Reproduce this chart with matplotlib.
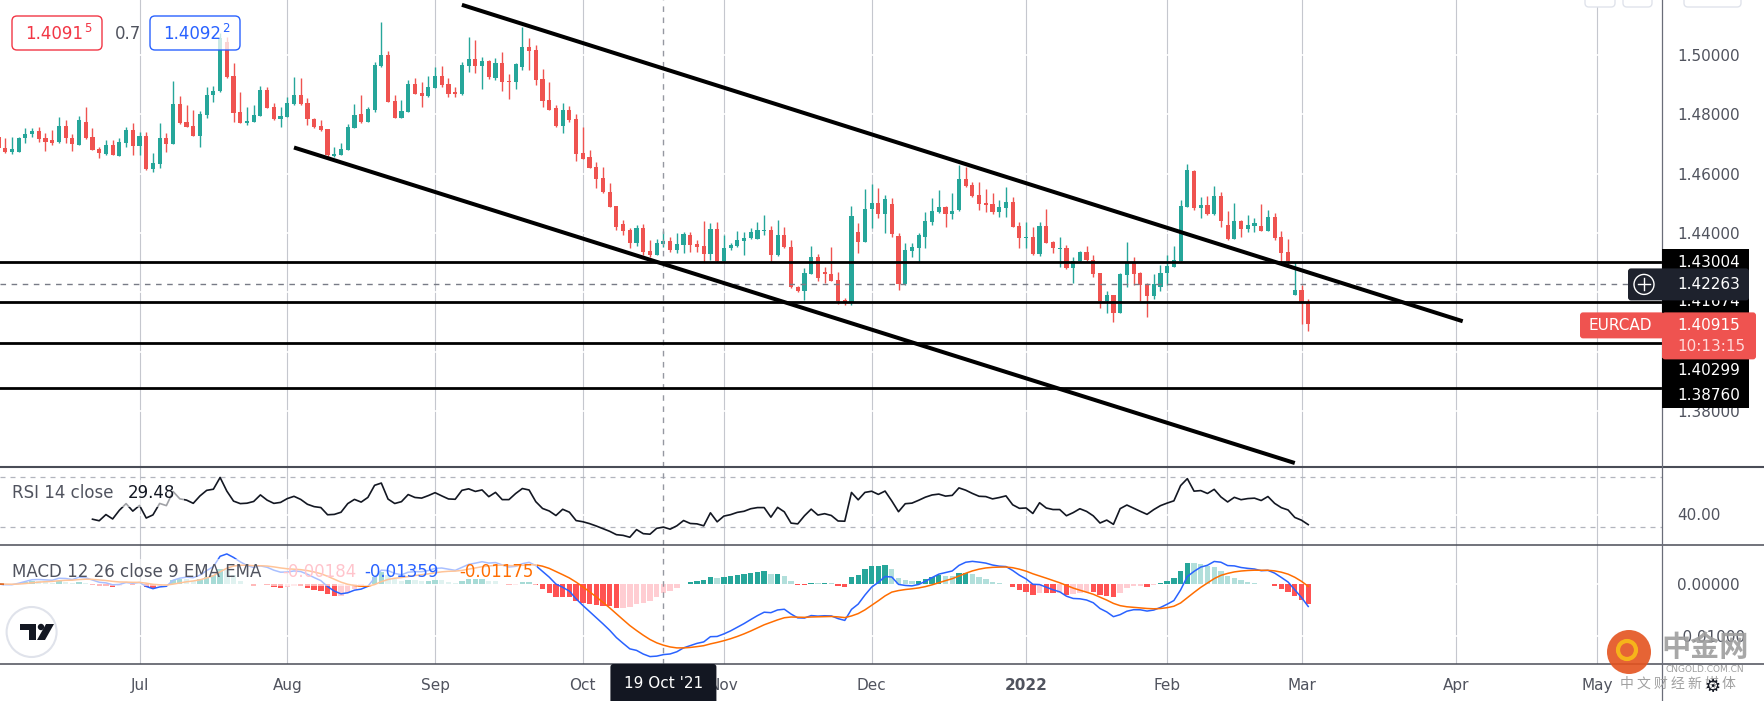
import matplotlib
matplotlib.use("Agg")
import matplotlib.pyplot as plt
from matplotlib.patches import Rectangle, FancyBboxPatch, Circle, Polygon
from matplotlib.lines import Line2D
from matplotlib.transforms import Affine2D
import numpy as np
import pandas as pd

plt.rcParams["axes.unicode_minus"] = False
plt.rcParams["font.family"] = ["DejaVu Sans"]

W, H = 1765, 701
UP, DOWN = "#26a69a", "#ef5350"
TXT = "#50535e"

# EURCAD daily candles (2 Jun 2021 - 2 Mar 2022)
dates = pd.bdate_range("2021-06-02", "2022-03-02")
opens = [
    1.4725, 1.4688, 1.4672, 1.4674, 1.4719, 1.4732, 1.4744, 1.4719, 1.4712, 1.4706,
    1.4761, 1.4719, 1.4697, 1.4773, 1.4723, 1.4682, 1.4666, 1.4697, 1.4660, 1.4704,
    1.4746, 1.4692, 1.4726, 1.4616, 1.4634, 1.4720, 1.4701, 1.4835, 1.4773, 1.4760,
    1.4728, 1.4798, 1.4864, 1.4879, 1.5045, 1.4929, 1.4808, 1.4772, 1.4775, 1.4795,
    1.4882, 1.4825, 1.4783, 1.4792, 1.4836, 1.4865, 1.4838, 1.4784, 1.4761, 1.4750,
    1.4660, 1.4663, 1.4680, 1.4755, 1.4800, 1.4775, 1.4813, 1.4964, 1.5000, 1.4845,
    1.4789, 1.4809, 1.4902, 1.4872, 1.4863, 1.4890, 1.4929, 1.4901, 1.4875, 1.4867,
    1.4964, 1.4985, 1.4964, 1.4980, 1.4924, 1.4972, 1.4913, 1.4910, 1.4961, 1.5026,
    1.5017, 1.4919, 1.4848, 1.4820, 1.4761, 1.4815, 1.4784, 1.4671, 1.4657, 1.4622,
    1.4586, 1.4539, 1.4491, 1.4430, 1.4410, 1.4367, 1.4415, 1.4339, 1.4326, 1.4364,
    1.4372, 1.4341, 1.4359, 1.4393, 1.4361, 1.4356, 1.4329, 1.4413, 1.4305, 1.4348,
    1.4357, 1.4374, 1.4382, 1.4380, 1.4406, 1.4410, 1.4326, 1.4393, 1.4354, 1.4219,
    1.4205, 1.4261, 1.4318, 1.4269, 1.4261, 1.4241, 1.4173, 1.4168, 1.4402, 1.4370,
    1.4480, 1.4500, 1.4464, 1.4497, 1.4390, 1.4228, 1.4340, 1.4350, 1.4387, 1.4438,
    1.4472, 1.4487, 1.4464, 1.4477, 1.4582, 1.4562, 1.4528, 1.4500, 1.4497, 1.4472,
    1.4485, 1.4503, 1.4423, 1.4383, 1.4386, 1.4329, 1.4423, 1.4369, 1.4346, 1.4348,
    1.4281, 1.4305, 1.4336, 1.4309, 1.4264, 1.4169, 1.4190, 1.4131, 1.4258, 1.4297,
    1.4264, 1.4228, 1.4187, 1.4219, 1.4264, 1.4286, 1.4306, 1.4489, 1.4610, 1.4485,
    1.4494, 1.4463, 1.4524, 1.4427, 1.4380, 1.4441, 1.4413, 1.4424, 1.4424, 1.4408,
    1.4452, 1.4385, 1.4336, 1.4191, 1.4207, 1.4165,
]
highs = [
    1.4736, 1.4719, 1.4722, 1.4725, 1.4753, 1.4753, 1.4756, 1.4736, 1.4747, 1.4792,
    1.4780, 1.4732, 1.4795, 1.4825, 1.4753, 1.4691, 1.4713, 1.4713, 1.4719, 1.4758,
    1.4770, 1.4741, 1.4741, 1.4668, 1.4770, 1.4736, 1.4912, 1.4862, 1.4831, 1.4815,
    1.4812, 1.4893, 1.4897, 1.5073, 1.5062, 1.4972, 1.4876, 1.4826, 1.4831, 1.4897,
    1.4893, 1.4837, 1.4826, 1.4860, 1.4925, 1.4921, 1.4854, 1.4786, 1.4781, 1.4752,
    1.4691, 1.4702, 1.4767, 1.4834, 1.4865, 1.4826, 1.4978, 1.5112, 1.5014, 1.4865,
    1.4847, 1.4916, 1.4924, 1.4910, 1.4930, 1.4961, 1.4963, 1.4921, 1.4893, 1.4978,
    1.5062, 1.5051, 1.4992, 1.4982, 1.4989, 1.5011, 1.4936, 1.4972, 1.5096, 1.5056,
    1.5034, 1.4953, 1.4910, 1.4831, 1.4837, 1.4828, 1.4800, 1.4756, 1.4680, 1.4640,
    1.4623, 1.4567, 1.4492, 1.4444, 1.4415, 1.4427, 1.4429, 1.4376, 1.4378, 1.4406,
    1.4387, 1.4399, 1.4404, 1.4402, 1.4376, 1.4440, 1.4432, 1.4438, 1.4393, 1.4367,
    1.4406, 1.4404, 1.4418, 1.4436, 1.4460, 1.4424, 1.4444, 1.4421, 1.4376, 1.4222,
    1.4281, 1.4357, 1.4328, 1.4286, 1.4354, 1.4267, 1.4179, 1.4491, 1.4432, 1.4548,
    1.4564, 1.4550, 1.4528, 1.4517, 1.4399, 1.4365, 1.4365, 1.4399, 1.4472, 1.4519,
    1.4545, 1.4492, 1.4534, 1.4629, 1.4623, 1.4573, 1.4573, 1.4548, 1.4534, 1.4511,
    1.4554, 1.4522, 1.4438, 1.4438, 1.4421, 1.4438, 1.4481, 1.4374, 1.4387, 1.4359,
    1.4320, 1.4339, 1.4357, 1.4326, 1.4265, 1.4204, 1.4191, 1.4264, 1.4370, 1.4320,
    1.4269, 1.4230, 1.4261, 1.4292, 1.4326, 1.4356, 1.4511, 1.4632, 1.4612, 1.4522,
    1.4524, 1.4558, 1.4537, 1.4474, 1.4502, 1.4442, 1.4460, 1.4449, 1.4497, 1.4477,
    1.4468, 1.4406, 1.4378, 1.4303, 1.4224, 1.4176,
]
lows = [
    1.4680, 1.4670, 1.4665, 1.4673, 1.4702, 1.4725, 1.4708, 1.4676, 1.4697, 1.4702,
    1.4702, 1.4676, 1.4695, 1.4717, 1.4680, 1.4654, 1.4663, 1.4662, 1.4659, 1.4691,
    1.4663, 1.4663, 1.4612, 1.4607, 1.4618, 1.4674, 1.4700, 1.4766, 1.4757, 1.4727,
    1.4691, 1.4786, 1.4840, 1.4874, 1.4924, 1.4775, 1.4771, 1.4764, 1.4774, 1.4794,
    1.4821, 1.4780, 1.4758, 1.4791, 1.4831, 1.4831, 1.4764, 1.4753, 1.4744, 1.4657,
    1.4657, 1.4662, 1.4679, 1.4754, 1.4770, 1.4773, 1.4809, 1.4961, 1.4842, 1.4786,
    1.4788, 1.4808, 1.4869, 1.4826, 1.4858, 1.4889, 1.4893, 1.4857, 1.4858, 1.4866,
    1.4944, 1.4938, 1.4885, 1.4919, 1.4916, 1.4880, 1.4852, 1.4885, 1.4950, 1.4950,
    1.4899, 1.4826, 1.4815, 1.4758, 1.4736, 1.4775, 1.4643, 1.4648, 1.4618, 1.4550,
    1.4536, 1.4487, 1.4410, 1.4393, 1.4348, 1.4357, 1.4326, 1.4320, 1.4324, 1.4351,
    1.4337, 1.4333, 1.4331, 1.4337, 1.4337, 1.4303, 1.4309, 1.4303, 1.4303, 1.4342,
    1.4354, 1.4326, 1.4379, 1.4378, 1.4393, 1.4303, 1.4323, 1.4348, 1.4213, 1.4202,
    1.4174, 1.4260, 1.4239, 1.4230, 1.4238, 1.4161, 1.4157, 1.4157, 1.4333, 1.4369,
    1.4415, 1.4451, 1.4399, 1.4387, 1.4207, 1.4224, 1.4320, 1.4303, 1.4348, 1.4427,
    1.4466, 1.4419, 1.4447, 1.4474, 1.4556, 1.4522, 1.4477, 1.4472, 1.4463, 1.4455,
    1.4455, 1.4419, 1.4348, 1.4348, 1.4326, 1.4322, 1.4365, 1.4333, 1.4284, 1.4279,
    1.4232, 1.4303, 1.4305, 1.4252, 1.4146, 1.4129, 1.4101, 1.4130, 1.4219, 1.4224,
    1.4171, 1.4118, 1.4176, 1.4205, 1.4224, 1.4285, 1.4305, 1.4487, 1.4477, 1.4451,
    1.4462, 1.4462, 1.4419, 1.4376, 1.4379, 1.4387, 1.4404, 1.4404, 1.4406, 1.4406,
    1.4376, 1.4303, 1.4286, 1.4189, 1.4093, 1.4069,
]
closes = [
    1.4688, 1.4672, 1.4683, 1.4719, 1.4734, 1.4745, 1.4717, 1.4706, 1.4704, 1.4761,
    1.4719, 1.4699, 1.4780, 1.4719, 1.4681, 1.4668, 1.4697, 1.4663, 1.4707, 1.4746,
    1.4692, 1.4727, 1.4616, 1.4636, 1.4720, 1.4701, 1.4835, 1.4770, 1.4758, 1.4728,
    1.4801, 1.4865, 1.4879, 1.5056, 1.4927, 1.4806, 1.4772, 1.4777, 1.4798, 1.4882,
    1.4822, 1.4783, 1.4794, 1.4838, 1.4865, 1.4834, 1.4783, 1.4757, 1.4747, 1.4663,
    1.4666, 1.4683, 1.4757, 1.4798, 1.4773, 1.4818, 1.4966, 1.5000, 1.4843, 1.4789,
    1.4811, 1.4902, 1.4870, 1.4863, 1.4893, 1.4929, 1.4899, 1.4870, 1.4867, 1.4966,
    1.4985, 1.4964, 1.4981, 1.4927, 1.4972, 1.4910, 1.4910, 1.4970, 1.5026, 1.5015,
    1.4916, 1.4845, 1.4816, 1.4761, 1.4815, 1.4781, 1.4667, 1.4649, 1.4620, 1.4582,
    1.4537, 1.4489, 1.4421, 1.4406, 1.4365, 1.4415, 1.4337, 1.4326, 1.4365, 1.4373,
    1.4341, 1.4362, 1.4396, 1.4359, 1.4354, 1.4330, 1.4413, 1.4305, 1.4348, 1.4359,
    1.4376, 1.4384, 1.4402, 1.4410, 1.4410, 1.4326, 1.4393, 1.4351, 1.4216, 1.4205,
    1.4264, 1.4318, 1.4249, 1.4260, 1.4239, 1.4170, 1.4167, 1.4457, 1.4370, 1.4481,
    1.4500, 1.4464, 1.4514, 1.4395, 1.4228, 1.4342, 1.4351, 1.4393, 1.4440, 1.4474,
    1.4487, 1.4464, 1.4474, 1.4582, 1.4559, 1.4526, 1.4497, 1.4494, 1.4472, 1.4486,
    1.4503, 1.4421, 1.4384, 1.4387, 1.4329, 1.4423, 1.4367, 1.4350, 1.4350, 1.4281,
    1.4305, 1.4336, 1.4309, 1.4261, 1.4169, 1.4190, 1.4131, 1.4261, 1.4297, 1.4261,
    1.4224, 1.4187, 1.4228, 1.4264, 1.4288, 1.4309, 1.4491, 1.4612, 1.4485, 1.4494,
    1.4463, 1.4524, 1.4441, 1.4380, 1.4441, 1.4413, 1.4427, 1.4432, 1.4408, 1.4452,
    1.4382, 1.4333, 1.4306, 1.4207, 1.4165, 1.40915,
]

# drawn levels and trend lines
levels = [1.43004, 1.41674, 1.40299, 1.38760]
level_label_shift = [0, 0, 28, 7]  # label pushed down in px
cross_date, cross_price = "2021-10-19", 1.42263
upper_dates, upper_prices = ["2021-09-07", "2022-04-04"], [1.51692, 1.41021]
lower_dates, lower_prices = ["2021-08-03", "2022-02-28"], [1.46880, 1.36239]

# bar positions on a weekday calendar (extends into the empty future area)
cal = pd.bdate_range("2021-06-02", "2022-05-31")
def pos(d):
    return cal.get_loc(pd.Timestamp(d))

months = pd.period_range("2021-07", "2022-05", freq="M")
month_pos = [pos(cal[cal.to_period("M") == m][0]) for m in months]
month_lbl = ["2022" if m.month == 1 else m.strftime("%b") for m in months]

o, h, l, c = (np.array(v) for v in (opens, highs, lows, closes))
x = np.array([pos(d) for d in dates])

# indicators from the closes
cs = pd.Series(c)
delta = cs.diff()
gain = delta.clip(lower=0).ewm(alpha=1 / 14, adjust=False, min_periods=14).mean()
loss = (-delta.clip(upper=0)).ewm(alpha=1 / 14, adjust=False, min_periods=14).mean()
rsi = 100 - 100 / (1 + gain / loss)
macd = cs.ewm(span=12, adjust=False).mean() - cs.ewm(span=26, adjust=False).mean()
signal = macd.ewm(span=9, adjust=False).mean()
hist = (macd - signal).values
prev = np.r_[hist[0], hist[:-1]]
hist_col = np.where(hist >= 0,
                    np.where(hist > prev, "#26a69a", "#b2dfdb"),
                    np.where(hist > prev, "#ffcdd2", "#ff5252"))

fig = plt.figure(figsize=(W / 100, H / 100), dpi=100)
T = Affine2D().scale(1, -1).translate(0, H)  # pixel coords, origin top-left

ax = fig.add_axes([0, 1 - 467 / H, 1662 / W, 467 / H])
ax_rsi = fig.add_axes([0, 1 - 545 / H, 1662 / W, 78 / H], sharex=ax)
ax_macd = fig.add_axes([0, 1 - 664 / H, 1662 / W, 119 / H], sharex=ax)

ax.set_xlim(0.23, 247.67)
ax.set_ylim(1.36105, 1.51855)
ax_rsi.set_ylim(15.6, 78)
ax_macd.set_ylim(-0.01538, 0.0075)

main_ticks = np.round(np.arange(1.38, 1.5001, 0.02), 2)
for a, ticks, fmt in ((ax, main_ticks, "{:.5f}"), (ax_rsi, [40], "{:.2f}"),
                      (ax_macd, [0.0, -0.01], "{:.5f}")):
    for s in a.spines.values():
        s.set_visible(False)
    for mp in month_pos:
        a.axvline(mp, color="#c5c7ce", lw=0.8, zorder=0.4)
    for t in ticks:
        a.axhline(t, color="white", lw=1.2, zorder=0.5)
    a.axvline(pos(cross_date), color="#9598a1", lw=1.0, ls=(0, (4, 4)), zorder=6)
    a.yaxis.tick_right()
    a.set_yticks(ticks)
    a.set_yticklabels([fmt.format(t) for t in ticks])
    a.tick_params(axis="y", length=0, pad=10.8, labelsize=11, labelcolor=TXT)
    a.tick_params(axis="x", length=0, labelbottom=False)

# candles
col = np.where(c >= o, UP, DOWN)
ax.vlines(x, l, h, colors=col, lw=1.0, zorder=2)
ax.bar(x, np.maximum(np.abs(c - o), 0.00008), bottom=np.minimum(o, c),
       width=0.62, color=col, linewidth=0, zorder=3)

ax.axhline(cross_price, color="#787b86", lw=1.0, ls=(0, (4, 4)), zorder=6)
for p in levels:
    ax.axhline(p, color="black", lw=2.0, zorder=7)
for ds, ps in ((upper_dates, upper_prices), (lower_dates, lower_prices)):
    ax.plot([pos(d) for d in ds], ps, color="black", lw=2.9,
            solid_capstyle="butt", zorder=7)

# RSI
ax_rsi.plot(x, rsi, color="#131722", lw=1.2, zorder=3)
for lvl in (70, 30):
    ax_rsi.axhline(lvl, color="#b2b5be", lw=0.9, ls=(0, (4, 4)), zorder=1)

# MACD
ax_macd.bar(x, hist, width=0.8, color=hist_col, linewidth=0, zorder=2)
ax_macd.plot(x, macd, color="#2962ff", lw=1.1, zorder=3)
ax_macd.plot(x, signal, color="#ff6d00", lw=1.1, zorder=3)
ax_macd.set_xticks(month_pos)
ax_macd.set_xticklabels(month_lbl)
ax_macd.tick_params(axis="x", length=0, pad=10, labelsize=11, labelcolor=TXT,
                    labelbottom=True)
for lb in ax_macd.get_xticklabels():
    if lb.get_text() == "2022":
        lb.set_fontweight("bold")


def ytop(a, v):
    return H - a.transData.transform((0, v))[1]


def xleft(a, v):
    return a.transData.transform((v, 0))[0]


def add(artist):
    fig.add_artist(artist)


def ftext(xp, yp, s, **kw):
    kw.setdefault("va", "center")
    kw.setdefault("ha", "left")
    fig.text(xp, yp, s, transform=T, **kw)


# pane separators and price-axis border
for yy, lw in ((467, 1.5), (545, 1.1), (664, 1.1)):
    add(Line2D([0, W], [yy, yy], transform=T, color="#4a4d57", lw=lw, zorder=4))
add(Line2D([1662, 1662], [0, H], transform=T, color="#6a6d78", lw=0.9, zorder=4))

# level labels on price axis
for i, (p, dy) in enumerate(zip(levels, level_label_shift)):
    yc = ytop(ax, p) + dy
    add(Rectangle((1662, yc - 13), 87, 26, transform=T, fc="black", ec="none",
                  zorder=10 + i * 0.1))
    ftext(1677, yc, f"{p:.5f}", color="white", fontsize=11, zorder=10.05 + i * 0.1)

# crosshair price label
yc = ytop(ax, cross_price)
add(FancyBboxPatch((1628, yc - 16), 121, 32, boxstyle="round,pad=0,rounding_size=3",
                   transform=T, fc="#1e222d", ec="none", zorder=12))
add(Circle((1644, yc), 10, transform=T, fc="none", ec="white", lw=1.0, zorder=12.5))
add(Line2D([1638, 1650], [yc, yc], transform=T, color="white", lw=1.0, zorder=12.6))
add(Line2D([1644, 1644], [yc - 6, yc + 6], transform=T, color="white", lw=1.0, zorder=12.6))
ftext(1677, yc, f"{cross_price:.5f}", color="white", fontsize=11, zorder=12.7)

# last price label
yc = ytop(ax, c[-1])
add(FancyBboxPatch((1580, yc - 12), 84, 26, boxstyle="round,pad=0,rounding_size=3",
                   transform=T, fc="#ef5350", ec="none", zorder=14))
add(FancyBboxPatch((1662, yc - 12), 94, 47, boxstyle="round,pad=0,rounding_size=3",
                   transform=T, fc="#ef5350", ec="none", zorder=14))
ftext(1588, yc + 1, "EURCAD", color="white", fontsize=11, zorder=14.5)
ftext(1677, yc + 1, f"{c[-1]:.5f}", color="white", fontsize=11, zorder=14.5)
ftext(1677, yc + 22, "10:13:15", color="#ffd9d9", fontsize=11, zorder=14.5)

# crosshair date label
xc = xleft(ax, pos(cross_date))
add(FancyBboxPatch((xc - 53, 664), 106, 40, boxstyle="round,pad=0,rounding_size=3",
                   transform=T, fc="#131722", ec="none", zorder=12))
ftext(xc, 684, "19 Oct '21", color="white", fontsize=11, ha="center", zorder=12.5)

# top-left bid / ask boxes
add(FancyBboxPatch((12, 16), 90, 34, boxstyle="round,pad=0,rounding_size=5", transform=T,
                   fc=(1, 1, 1, 0.75), ec="#f23645", lw=1.0, zorder=8))
ftext(25, 34, "1.4091", color="#f23645", fontsize=12, zorder=8.5)
ftext(84, 28, "5", color="#f23645", fontsize=8.5, zorder=8.5)
ftext(115, 34, "0.7", color=TXT, fontsize=12, zorder=8.5)
add(FancyBboxPatch((150, 16), 90, 34, boxstyle="round,pad=0,rounding_size=5", transform=T,
                   fc=(1, 1, 1, 0.75), ec="#2962ff", lw=1.0, zorder=8))
ftext(163, 34, "1.4092", color="#2962ff", fontsize=12, zorder=8.5)
ftext(222, 28, "2", color="#2962ff", fontsize=8.5, zorder=8.5)

# top-right buttons (cut off)
for bx, bw in ((1585, 30), (1623, 29), (1684, 57)):
    add(FancyBboxPatch((bx, -10), bw, 17, boxstyle="round,pad=0,rounding_size=4",
                       transform=T, fc="white", ec="#e0e3eb", lw=1.0, zorder=8))

# indicator legends
add(Rectangle((4, 480), 180, 27, transform=T, fc=(1, 1, 1, 0.6), ec="none", zorder=8))
ftext(12, 493, "RSI 14 close", color=TXT, fontsize=12, zorder=8.5)
ftext(128, 493, "29.48", color="#131722", fontsize=12, zorder=8.5)
add(Rectangle((4, 559), 533, 27, transform=T, fc=(1, 1, 1, 0.6), ec="none", zorder=8))
ftext(12, 572, "MACD 12 26 close 9 EMA EMA", color=TXT, fontsize=12, zorder=8.5)
ftext(282, 572, "-0.00184", color="#ffc4cc", fontsize=12, zorder=8.5)
ftext(364, 572, "-0.01359", color="#2962ff", fontsize=12, zorder=8.5)
ftext(459, 572, "-0.01175", color="#ff6d00", fontsize=12, zorder=8.5)

# TradingView logo
add(Circle((31.6, 632), 25, transform=T, fc="white", ec="#e0e3eb", lw=1.5, zorder=8))
add(Rectangle((20, 624), 16, 6, transform=T, fc="#131722", ec="none", zorder=8.5))
add(Rectangle((29, 624), 7, 16, transform=T, fc="#131722", ec="none", zorder=8.5))
add(Circle((41, 627), 3.2, transform=T, fc="#131722", ec="none", zorder=8.5))
add(Polygon([(46, 624), (54, 624), (45, 640), (37, 640)], closed=True, transform=T,
            fc="#131722", ec="none", zorder=8.5))

# watermark
add(Circle((1629, 652), 22, transform=T, fc="#e4531f", ec="none", alpha=0.9, zorder=15))
add(Circle((1627, 650), 9, transform=T, fc="none", ec="#f6b41a", lw=3, zorder=15.5))
ftext(1705, 647, "中金网", color="#9e9e9e", fontsize=21, ha="center", weight="bold",
      family=["Noto Sans CJK SC", "DejaVu Sans"], alpha=0.9, zorder=15)
ftext(1705, 669, "CNGOLD.COM.CN", color="#9e9e9e", fontsize=6.5, ha="center", zorder=15)
ftext(1678, 684, "中 文 财 经 新 媒 体", color="#a0a0a0", fontsize=10, ha="center",
      family=["Noto Sans CJK SC", "DejaVu Sans"], zorder=15)
ftext(1712, 687, "⚙", color="#131722", fontsize=13, ha="center", zorder=15.5)

fig.savefig("out.png", dpi=100)
